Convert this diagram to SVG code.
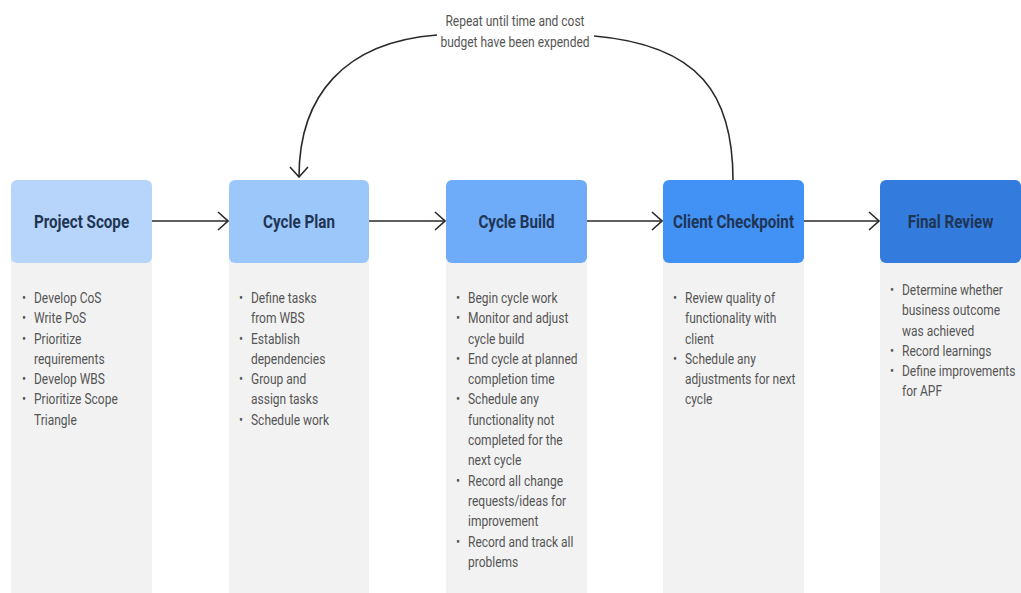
<svg xmlns="http://www.w3.org/2000/svg" width="1021" height="593" viewBox="0 0 1021 593">
<style>
.body{fill:#f2f2f2}
.hdr{font-family:Roboto,"Liberation Sans",sans-serif;font-weight:700;font-size:19px;fill:#1f3554;text-anchor:middle}
.txt{font-family:Roboto,"Liberation Sans",sans-serif;font-size:15px;fill:#555}
.conn{fill:none;stroke:#2a2a2a;stroke-width:1.6}
.lbl{font-family:Roboto,"Liberation Sans",sans-serif;font-size:15px;fill:#555;text-anchor:middle}
</style>
<defs>
<marker id="chev" viewBox="0 0 12 20" refX="11" refY="10" markerWidth="12" markerHeight="20" markerUnits="userSpaceOnUse" orient="auto">
<path d="M1 1 L11 10 L1 19" fill="none" stroke="#2a2a2a" stroke-width="1.6"/>
</marker>
</defs>
<rect width="1021" height="593" fill="#fff"/>

<g id="project-scope">
<rect class="body" x="11" y="250" width="141" height="343"/>
<rect x="11" y="180" width="141" height="83" rx="6" fill="#b7d5fa"/>
<text class="hdr" transform="translate(81.5,228) scale(0.8,1)">Project Scope</text>
<text class="txt" transform="translate(22,303) scale(0.8,1)"><tspan x="0">•</tspan><tspan x="15">Develop CoS</tspan><tspan x="0" dy="20.3">•</tspan><tspan x="15">Write PoS</tspan><tspan x="0" dy="20.3">•</tspan><tspan x="15">Prioritize</tspan><tspan x="15" dy="20.3">requirements</tspan><tspan x="0" dy="20.3">•</tspan><tspan x="15">Develop WBS</tspan><tspan x="0" dy="20.3">•</tspan><tspan x="15">Prioritize Scope</tspan><tspan x="15" dy="20.3">Triangle</tspan></text>
</g>

<g id="cycle-plan">
<rect class="body" x="229" y="250" width="140" height="343"/>
<rect x="229" y="180" width="140" height="83" rx="6" fill="#9cc7fb"/>
<text class="hdr" transform="translate(299,228) scale(0.8,1)">Cycle Plan</text>
<text class="txt" transform="translate(239,303) scale(0.8,1)"><tspan x="0">•</tspan><tspan x="15">Define tasks</tspan><tspan x="15" dy="20.3">from WBS</tspan><tspan x="0" dy="20.3">•</tspan><tspan x="15">Establish</tspan><tspan x="15" dy="20.3">dependencies</tspan><tspan x="0" dy="20.3">•</tspan><tspan x="15">Group and</tspan><tspan x="15" dy="20.3">assign tasks</tspan><tspan x="0" dy="20.3">•</tspan><tspan x="15">Schedule work</tspan></text>
</g>

<g id="cycle-build">
<rect class="body" x="446" y="250" width="141" height="343"/>
<rect x="446" y="180" width="141" height="83" rx="6" fill="#6eabf9"/>
<text class="hdr" transform="translate(516.5,228) scale(0.8,1)">Cycle Build</text>
<text class="txt" transform="translate(456,303) scale(0.8,1)"><tspan x="0">•</tspan><tspan x="15">Begin cycle work</tspan><tspan x="0" dy="20.3">•</tspan><tspan x="15">Monitor and adjust</tspan><tspan x="15" dy="20.3">cycle build</tspan><tspan x="0" dy="20.3">•</tspan><tspan x="15">End cycle at planned</tspan><tspan x="15" dy="20.3">completion time</tspan><tspan x="0" dy="20.3">•</tspan><tspan x="15">Schedule any</tspan><tspan x="15" dy="20.3">functionality not</tspan><tspan x="15" dy="20.3">completed for the</tspan><tspan x="15" dy="20.3">next cycle</tspan><tspan x="0" dy="20.3">•</tspan><tspan x="15">Record all change</tspan><tspan x="15" dy="20.3">requests/ideas for</tspan><tspan x="15" dy="20.3">improvement</tspan><tspan x="0" dy="20.3">•</tspan><tspan x="15">Record and track all</tspan><tspan x="15" dy="20.3">problems</tspan></text>
</g>

<g id="client-checkpoint">
<rect class="body" x="663" y="250" width="141" height="343"/>
<rect x="663" y="180" width="141" height="83" rx="6" fill="#4291f4"/>
<text class="hdr" transform="translate(733.5,228) scale(0.8,1)">Client Checkpoint</text>
<text class="txt" transform="translate(673,303) scale(0.8,1)"><tspan x="0">•</tspan><tspan x="15">Review quality of</tspan><tspan x="15" dy="20.3">functionality with</tspan><tspan x="15" dy="20.3">client</tspan><tspan x="0" dy="20.3">•</tspan><tspan x="15">Schedule any</tspan><tspan x="15" dy="20.3">adjustments for next</tspan><tspan x="15" dy="20.3">cycle</tspan></text>
</g>

<g id="final-review">
<rect class="body" x="880" y="250" width="141" height="343"/>
<rect x="880" y="180" width="141" height="83" rx="6" fill="#337cdd"/>
<text class="hdr" transform="translate(950.5,228) scale(0.8,1)">Final Review</text>
<text class="txt" transform="translate(890,295) scale(0.8,1)"><tspan x="0">•</tspan><tspan x="15">Determine whether</tspan><tspan x="15" dy="20.3">business outcome</tspan><tspan x="15" dy="20.3">was achieved</tspan><tspan x="0" dy="20.3">•</tspan><tspan x="15">Record learnings</tspan><tspan x="0" dy="20.3">•</tspan><tspan x="15">Define improvements</tspan><tspan x="15" dy="20.3">for APF</tspan></text>
</g>

<g id="connectors">
<path class="conn" d="M152 221 H228" marker-end="url(#chev)"/>
<path class="conn" d="M369 221 H445" marker-end="url(#chev)"/>
<path class="conn" d="M587 221 H662" marker-end="url(#chev)"/>
<path class="conn" d="M804 221 H879" marker-end="url(#chev)"/>
<path class="conn" d="M733 180 C733 95 700 45 594 36"/>
<path class="conn" d="M437 35 C345 42 299 95 299 177" marker-end="url(#chev)"/>
<text class="lbl" transform="translate(515,26) scale(0.8,1)">Repeat until time and cost</text>
<text class="lbl" transform="translate(515,47) scale(0.8,1)">budget have been expended</text>
</g>
</svg>
